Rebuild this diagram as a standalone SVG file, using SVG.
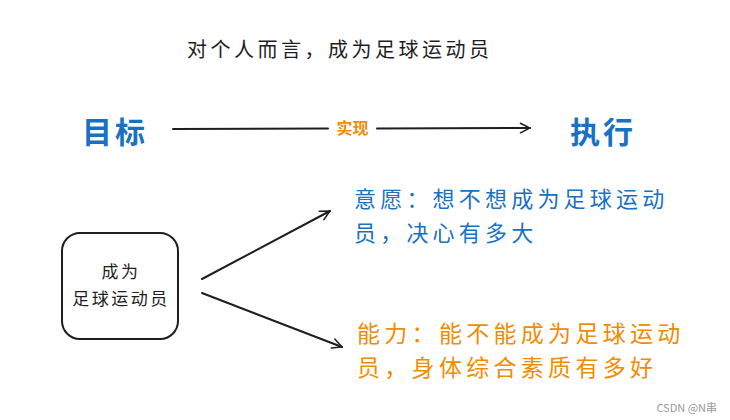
<svg xmlns="http://www.w3.org/2000/svg" width="730" height="420" viewBox="0 0 730 420">
<defs>
<style>
text{font-family:"Noto Sans CJK SC","Noto Sans",sans-serif;}
.blk{fill:#1e1e1e;}
.blue{fill:#1971c2;}
.org{fill:#f08c00;}
.ln{stroke:#1e1e1e;stroke-width:2;fill:none;stroke-linecap:round;}
</style>
<marker id="ah" viewBox="0 0 20 20" refX="18" refY="10" markerWidth="12" markerHeight="12" markerUnits="userSpaceOnUse" orient="auto">
<path d="M2,2 L18,10 L2,18" fill="none" stroke="#1e1e1e" stroke-width="2.4" stroke-linecap="round"/>
</marker>
</defs>
<rect width="730" height="420" fill="#ffffff"/>
<g id="title"><text x="187" y="57" class="blk" font-size="20" letter-spacing="3.5">对个人而言，成为足球运动员</text></g>
<g id="goal"><text x="82" y="143" class="blue" font-size="30" font-weight="bold" letter-spacing="3">目标</text></g>
<g id="exec"><text x="570" y="143" class="blue" font-size="30" font-weight="bold" letter-spacing="3">执行</text></g>
<g id="node-player">
<rect x="62" y="233" width="116" height="106" rx="18" ry="18" fill="#ffffff" stroke="#1e1e1e" stroke-width="2"/>
<text x="121" y="278" class="blk" font-size="17" text-anchor="middle" letter-spacing="2.5">成为</text>
<text x="121" y="305" class="blk" font-size="17" text-anchor="middle" letter-spacing="2.5">足球运动员</text>
</g>
<g id="connectors">
<path class="ln" d="M173,129 L328,128.5"/>
<path class="ln" d="M377,128.5 L530,128" marker-end="url(#ah)"/>
<text x="352.5" y="134" class="org" font-size="16" font-weight="bold" text-anchor="middle">实现</text>
<path class="ln" d="M202,279 L330,211" marker-end="url(#ah)"/>
<path class="ln" d="M202,293 L342,347" marker-end="url(#ah)"/>
</g>
<g id="will">
<text x="354" y="207" class="blue" font-size="22" letter-spacing="4.2">意愿：想不想成为足球运动</text>
<text x="354" y="241" class="blue" font-size="22" letter-spacing="4.2">员，决心有多大</text>
</g>
<g id="ability">
<text x="357" y="342" class="org" font-size="23" letter-spacing="4.3">能力：能不能成为足球运动</text>
<text x="357" y="376" class="org" font-size="23" letter-spacing="4.3">员，身体综合素质有多好</text>
</g>
<text x="717" y="412" font-size="11" fill="#999999" text-anchor="end">CSDN @N串</text>
</svg>
